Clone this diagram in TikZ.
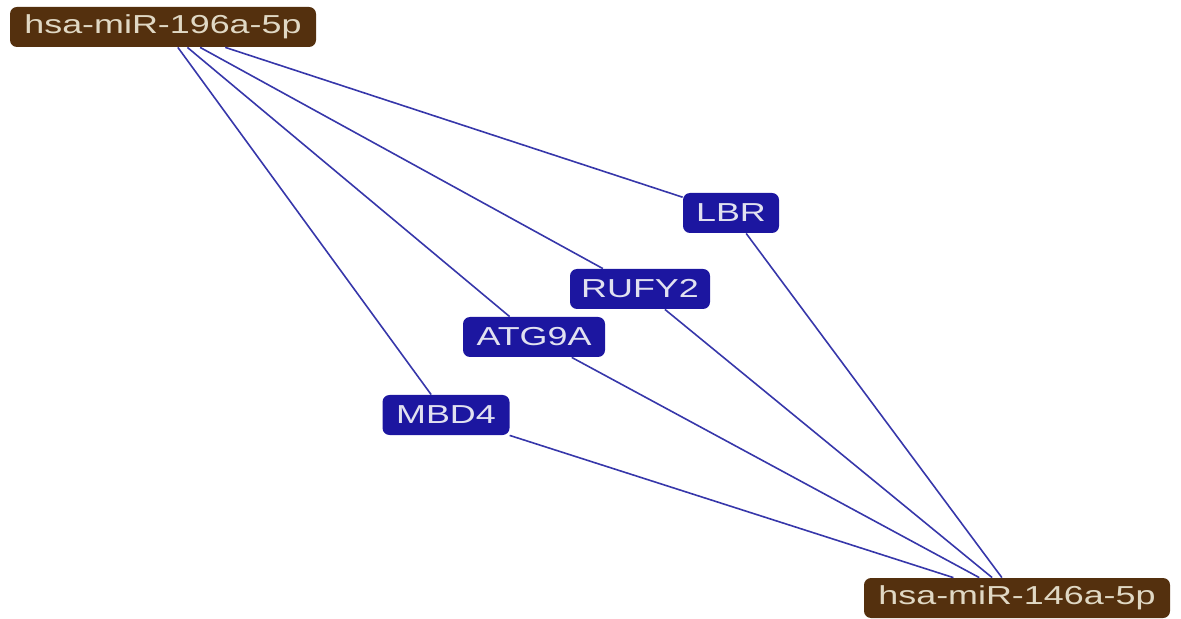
\documentclass[tikz,border=0pt]{standalone}
\usepackage{fontspec}
\newfontfamily\nodefont[FakeStretch=1.38]{Liberation Sans}
\definecolor{mirbrown}{RGB}{84,48,14}
\definecolor{mirtext}{RGB}{224,216,196}
\definecolor{genefill}{RGB}{28,22,160}
\definecolor{genetext}{RGB}{225,225,240}
\definecolor{edgeblue}{RGB}{55,55,170}
\begin{document}
\begin{tikzpicture}[x=0.5pt,y=-0.5pt,
  mirna/.style={rectangle, rounded corners=3.5pt, fill=mirbrown, text=mirtext,
    font=\nodefont\fontsize{13}{15}\selectfont, inner sep=0pt, minimum height=20pt, minimum width=153pt},
  gene/.style={rectangle, rounded corners=3.5pt, fill=genefill, text=genetext,
    font=\nodefont\fontsize{13}{15}\selectfont, inner sep=0pt, minimum height=20pt},
  link/.style={draw=edgeblue, line width=0.8pt}]
\useasboundingbox (0,0) rectangle (1181,619);
\node[mirna] (m196) at (163,27) {hsa-miR-196a-5p};
\node[mirna] (m146) at (1017,598) {hsa-miR-146a-5p};
\node[gene, minimum width=48pt] (lbr) at (731,213) {LBR};
\node[gene, minimum width=70pt] (rufy) at (640,289) {RUFY2};
\node[gene, minimum width=71pt] (atg) at (534,337) {ATG9A};
\node[gene, minimum width=63.5pt] (mbd) at (446,415) {MBD4};
\foreach \g in {lbr,rufy,atg,mbd}{
  \draw[link] (m196) -- (\g);
  \draw[link] (\g) -- (m146);
}
\end{tikzpicture}
\end{document}
